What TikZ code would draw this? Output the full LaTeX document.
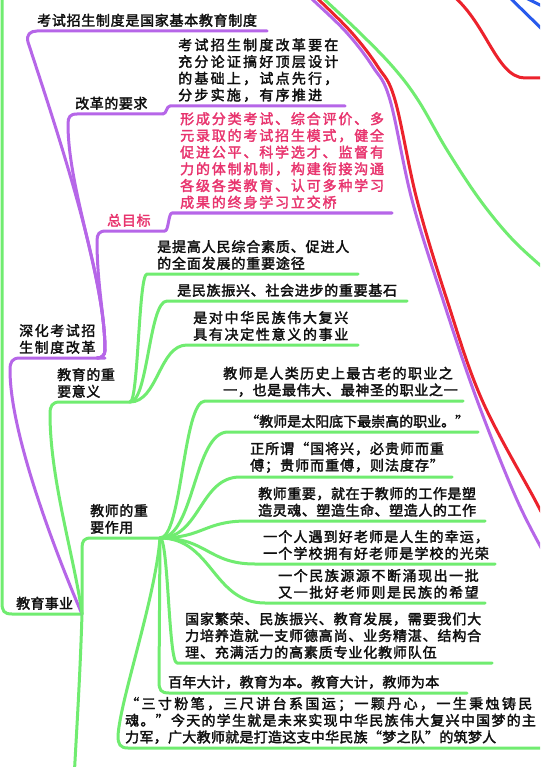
\documentclass[tikz,border=0pt]{standalone}
\usepackage{fontspec}
\setmainfont{Noto Sans CJK SC}
\definecolor{cpur}{RGB}{182,102,232}
\definecolor{cgrn}{RGB}{112,236,112}
\definecolor{cred}{RGB}{236,34,44}
\definecolor{cblu}{RGB}{40,90,236}
\definecolor{cpink}{RGB}{232,52,110}
\definecolor{ctxt}{RGB}{15,15,15}
\tikzset{
  lnk/.style={line width=3pt, line cap=round, line join=round},
  pur/.style={lnk, draw=cpur},
  grn/.style={lnk, draw=cgrn},
  rdl/.style={lnk, draw=cred},
  blu/.style={lnk, draw=cblu},
  topic/.style={anchor=south west, inner sep=0pt, align=left, text=ctxt,
    font=\fontsize{14}{16.7}\selectfont\addfontfeature{LetterSpace=#1,FakeBold=2.2}},
  topic/.default=0,
  pinktopic/.style={topic=#1, text=cpink},
}
\begin{document}
\begin{tikzpicture}[x=1pt,y=-1pt]
\useasboundingbox (0,0) rectangle (540,767);
\fill[white] (0,0) rectangle (540,767);
\clip (0,0) rectangle (540,767);

% ---------- named underline end points ----------
\coordinate (rootL) at (2,-20);
\coordinate (n20b) at (82,614);
\coordinate (n6b) at (105,358);
\coordinate (n1b) at (267,31);
\coordinate (n3b) at (163,114);
\coordinate (n2a) at (170,106);
\coordinate (n2b) at (345,106);
\coordinate (n5b) at (165,231);
\coordinate (n4a) at (172,213);
\coordinate (n4b) at (392,213);
\coordinate (n10b) at (130,402);
\coordinate (n7a) at (147,274);  \coordinate (n7b) at (358,274);
\coordinate (n8a) at (167,301);  \coordinate (n8b) at (407,301);
\coordinate (n9a) at (187,345);  \coordinate (n9b) at (358,345);
\coordinate (n21b) at (160,538);
\coordinate (n11a) at (205,401); \coordinate (n11b) at (463,401);
\coordinate (n12a) at (228,432); \coordinate (n12b) at (478,432);
\coordinate (n13a) at (240,477); \coordinate (n13b) at (452,477);
\coordinate (n14a) at (247,521); \coordinate (n14b) at (485,521);
\coordinate (n15a) at (255,564); \coordinate (n15b) at (495,564);
\coordinate (n16a) at (265,603); \coordinate (n16b) at (485,603);
\coordinate (n17a) at (177,663); \coordinate (n17b) at (492,663);
\coordinate (n18b) at (467,693);
\coordinate (n19b) at (548,748);
\coordinate (offB) at (74,780);

% ---------- long connectors from the root (off picture) ----------
\draw[grn] plot[smooth, tension=0.6] coordinates {(312,-12) (325,0) (360,33) (393,67) (418,100) (447,150) (480,200) (513,240) (548,272)};
\draw[pur] plot[smooth, tension=0.6] coordinates {(300,-12) (313,0) (347,33) (373,67) (390,100) (412,200) (443,300) (477,400) (517,500) (548,560)};
\draw[rdl] plot[smooth, tension=0.6] coordinates {(306,-12) (319,0) (352,33) (378,67) (395,100) (417,200) (447,300) (482,400) (535,500) (548,525)};
\draw[rdl] (445,-10) .. controls (485,15) and (495,78) .. (525,78) -- (548,78);
\draw[blu] (505,-7) -- (548,35);
\draw[blu] (522,-4) -- (548,9);

% ---------- 教育事业 ----------
\draw[grn] (rootL) -- (2,603) .. controls (2,611) and (4,614) .. (12,614) -- (n20b);
\draw[grn] (n20b) .. controls (80,680) and (76,740) .. (offB);
% to 深化考试招生制度改革
\draw[pur] (n20b) .. controls (65,575) and (10,440) .. (10,370) .. controls (10,362) and (12,358) .. (20,358) -- (n6b);
% to 教育的重要意义
\draw[grn] (n20b) .. controls (75,560) and (50,480) .. (50,414) .. controls (50,406) and (52,402) .. (60,402) -- (n10b);
% to 教师的重要作用
\draw[grn] (n20b) -- (82,548) .. controls (82,541) and (84,538) .. (91,538) -- (n21b);

% ---------- 深化考试招生制度改革 children ----------
\draw[pur] (97,358) .. controls (102,358) and (105,355) .. (105,350) .. controls (105,270) and (50,110) .. (28,42) .. controls (26,35) and (30,31) .. (37,31) -- (n1b);
\draw[pur] (97,358) .. controls (102,358) and (105,355) .. (105,350) .. controls (105,280) and (68,190) .. (68,124) .. controls (68,117) and (70,114) .. (77,114) -- (n3b);
\draw[pur] (97,358) .. controls (102,358) and (105,355) .. (105,350) .. controls (105,320) and (97,285) .. (97,241) .. controls (97,234) and (99,231) .. (106,231) -- (n5b);
\draw[pur] (n3b) .. controls +(3.5,0) and +(-3.5,0) .. (n2a) -- (n2b);
\draw[pur] (n5b) .. controls +(3.5,0) and +(-3.5,0) .. (n4a) -- (n4b);

% ---------- 教育的重要意义 children ----------
\draw[grn] (n10b) .. controls +(8.5,0) and +(-8.5,0) .. (n7a) -- (n7b);
\draw[grn] (n10b) .. controls +(18,0) and +(-18,0) .. (n8a) -- (n8b);
\draw[grn] (n10b) .. controls +(28,0) and +(-28,0) .. (n9a) -- (n9b);

% ---------- 教师的重要作用 children ----------
\draw[grn] (n21b) .. controls +(22,0) and +(-22,0) .. (n11a) -- (n11b);
\draw[grn] (n21b) .. controls +(34,0) and +(-34,0) .. (n12a) -- (n12b);
\draw[grn] (n21b) .. controls +(40,0) and +(-40,0) .. (n13a) -- (n13b);
\draw[grn] (n21b) .. controls +(43,0) and +(-43,0) .. (n14a) -- (n14b);
\draw[grn] (n21b) .. controls +(47,0) and +(-47,0) .. (n15a) -- (n15b);
\draw[grn] (n21b) .. controls +(52,0) and +(-52,0) .. (n16a) -- (n16b);
\draw[grn] (n21b) .. controls +(8.5,0) and +(-8.5,0) .. (n17a) -- (n17b);
\draw[grn] (n21b) -- (159,682) .. controls (159,690) and (161,693) .. (169,693) -- (n18b);
\draw[grn] (n21b) .. controls (155,600) and (120,700) .. (118,736) .. controls (118,744) and (120,748) .. (128,748) -- (n19b);

% ---------- texts ----------
\node[topic=5] (n1) at (37,27) {考试招生制度是国家基本教育制度};
\node[topic=16] (n2) at (178,102) {考试招生制度改革要在\\充分论证搞好顶层设计\\的基础上，试点先行，\\分步实施，有序推进};
\node[topic=4] (n3) at (75,110) {改革的要求};
\node[pinktopic=13] (n4) at (180,209) {形成分类考试、综合评价、多\\元录取的考试招生模式，健全\\促进公平、科学选才、监督有\\力的体制机制，构建衔接沟通\\各级各类教育、认可多种学习\\成果的终身学习立交桥};
\node[pinktopic=5] (n5) at (107,227) {总目标};
\node[topic=11] (n6) at (19,354) {深化考试招\\生制度改革};
\node[topic=6] (n7) at (157,270) {是提高人民综合素质、促进人\\的全面发展的重要途径};
\node[topic=5] (n8) at (177,297) {是民族振兴、社会进步的重要基石};
\node[topic=12] (n9) at (193,341) {是对中华民族伟大复兴\\具有决定性意义的事业};
\node[topic=4] (n10) at (57,398) {教育的重\\要意义};
\node[topic=10] (n11) at (223,397) {教师是人类历史上最古老的职业之\\{\addfontfeature{LetterSpace=5}一，也是最伟大、最神圣的职业之一}};
\node[topic=0] (n12) at (245,428) {“教师是太阳底下最崇高的职业。”};
\node[topic=7] (n13) at (250,473) {正所谓“国将兴，必贵师而重\\傅；贵师而重傅，则法度存”};
\node[topic=4] (n14) at (258,517) {教师重要，就在于教师的工作是塑\\造灵魂、塑造生命、塑造人的工作};
\node[topic=8] (n15) at (263,560) {一个人遇到好老师是人生的幸运，\\一个学校拥有好老师是学校的光荣};
\node[topic=11] (n16) at (278,599) {一个民族源源不断涌现出一批\\又一批好老师则是民族的希望};
\node[topic=6] (n17) at (185,659) {国家繁荣、民族振兴、教育发展，需要我们大\\力培养造就一支师德高尚、业务精湛、结构合\\理、充满活力的高素质专业化教师队伍};
\node[topic=2] (n18) at (168,689) {百年大计，教育为本。教育大计，教师为本};
\node[topic=0] (n19) at (125,744) {{\addfontfeature{LetterSpace=17}“三寸粉笔，三尺讲台系国运；一颗丹心，一生秉烛铸民}\\{\addfontfeature{LetterSpace=9}魂。”今天的学生就是未来实现中华民族伟大复兴中国梦的主}\\{\addfontfeature{LetterSpace=2}力军，广大教师就是打造这支中华民族“梦之队”的筑梦人}};
\node[topic=2] (n20) at (16,610) {教育事业};
\node[topic=4] (n21) at (90,534) {教师的重\\要作用};
\end{tikzpicture}
\end{document}
